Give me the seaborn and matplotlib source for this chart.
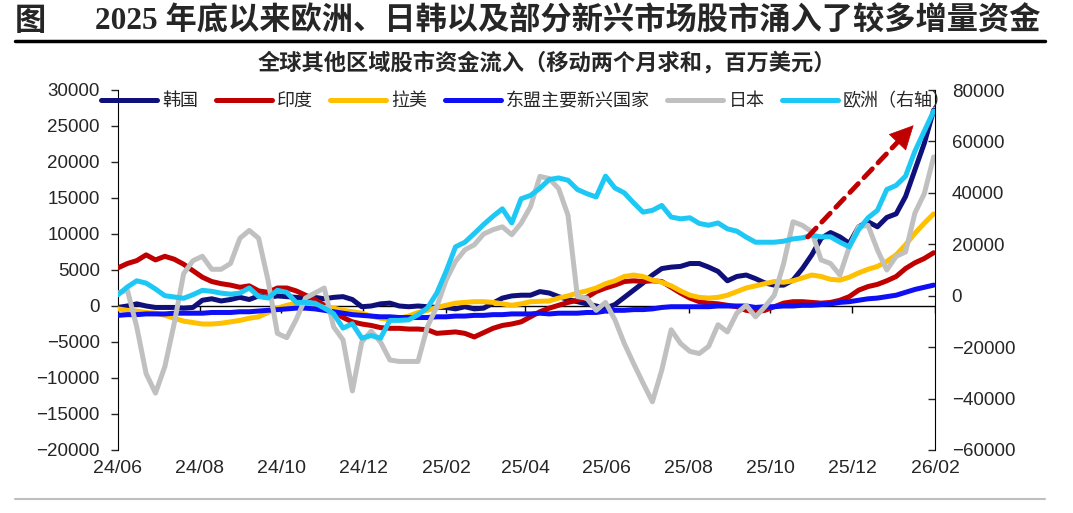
import pandas as pd
import seaborn as sns
import matplotlib.pyplot as plt
import matplotlib.dates as mdates
from matplotlib.lines import Line2D

# 周度数据，移动两个月求和，百万美元
fechas = pd.date_range('2024-06-01', periods=88, freq='7D')

korea = [-200, 0, 300, 0, -200, -200, -200, -300, -200, 800,
         1000, 700, 900, 1200, 900, 1400, 1200, 1400, 1300, 1200,
         1100, 1200, 1000, 1200, 1300, 900, -100, 0, 300, 400,
         0, -100, 0, -100, -200, -200, -400, -100, -400, -300,
         400, 1100, 1400, 1500, 1500, 2000, 1800, 1300, 900, 600,
         300, 0, -300, 200, 1200, 2200, 3200, 4300, 5200, 5400,
         5500, 5900, 5900, 5400, 4800, 3500, 4100, 4300, 3800, 3200,
         2900, 2900, 3600, 5200, 7100, 9400, 10200, 9600, 8700, 11000,
         11700, 11000, 12300, 12800, 15200, 18900, 22600, 27200]

india = [5300, 5900, 6300, 7100, 6400, 6900, 6500, 5800, 4900, 4000,
         3400, 3100, 2900, 2600, 2800, 2100, 1900, 2500, 2500, 2100,
         1500, 900, 100, -800, -1600, -2200, -2500, -2700, -3000, -3100,
         -3100, -3200, -3200, -3300, -3800, -3700, -3600, -3800, -4300, -3700,
         -3100, -2700, -2500, -2200, -1500, -800, -300, 100, 500, 800,
         1200, 2000, 2500, 2900, 3400, 3500, 3400, 3500, 3400, 2600,
         1800, 1100, 600, 400, 300, 100, -100, -600, -800, -600,
         -100, 400, 600, 600, 500, 400, 500, 800, 1300, 2200,
         2700, 3000, 3500, 4100, 5200, 6000, 6600, 7400]

latam = [-400, -600, -700, -900, -1000, -1300, -1700, -2100, -2300, -2500,
         -2500, -2400, -2200, -2000, -1700, -1500, -900, -300, 100, 400,
         300, 0, -200, -300, -600, -800, -1000, -1400, -1700, -1900,
         -1700, -1400, -900, -600, -200, 100, 400, 500, 600, 600,
         500, 300, 100, 300, 600, 650, 700, 1100, 1400, 1800,
         2100, 2500, 3100, 3500, 4100, 4300, 4100, 3600, 3300, 2800,
         2100, 1500, 1200, 1100, 1200, 1500, 2000, 2500, 2800, 3100,
         3400, 3300, 3500, 3900, 4300, 4100, 3700, 3600, 4000, 4600,
         5100, 5500, 6200, 7100, 8500, 10100, 11500, 12800]

asean = [-1300, -1200, -1200, -1100, -1100, -1100, -1000, -1000, -1000, -1000,
         -900, -900, -900, -800, -800, -700, -600, -500, -400, -300,
         -300, -400, -600, -800, -1000, -1200, -1300, -1400, -1500, -1500,
         -1600, -1600, -1600, -1600, -1500, -1500, -1400, -1400, -1300, -1300,
         -1200, -1200, -1100, -1100, -1100, -1000, -1100, -1000, -1000, -1000,
         -900, -900, -700, -600, -600, -500, -500, -400, -200, -100,
         -100, -100, -100, -100, 0, 0, 0, 0, -200, -100,
         -100, 0, 0, 100, 100, 200, 300, 500, 600, 800,
         1000, 1100, 1300, 1500, 1900, 2300, 2600, 2900]

japan = [1800, 2200, -2900, -9400, -12100, -8400, -2400, 4500, 6300, 6900,
         5100, 5100, 5900, 9400, 10500, 9400, 3600, -3800, -4400, -1900,
         1100, 1800, 2500, -2900, -4700, -11800, -5000, -3500, -5000, -7500,
         -7700, -7700, -7700, -2900, -100, 3600, 6200, 7800, 8500, 10000,
         10600, 11000, 9900, 11500, 13800, 18000, 17700, 16300, 12600, 1300,
         1100, -600, 500, -1900, -5200, -8000, -10700, -13300, -8900, -3300,
         -5200, -6300, -6600, -5600, -2600, -3600, -1000, 100, -1500, -100,
         1500, 5900, 11700, 11200, 10300, 6400, 5900, 4300, 8200, 11000,
         11200, 7800, 5000, 6900, 7500, 12900, 15600, 20700]

europe = [400, 3400, 5800, 4900, 2600, 0, -500, -1000, 400, 2100,
          1700, 1000, 600, 1000, 3000, -300, -900, 2100, 1300, -2600,
          -2600, -2900, -4800, -7000, -12600, -10900, -16500, -15500, -16500, -9600,
          -9600, -9400, -7400, -4800, 1000, 9500, 19000, 20800, 24200, 27700,
          30900, 33800, 28300, 37700, 39000, 41800, 45200, 45800, 44900, 41300,
          39700, 38400, 46500, 41900, 40000, 36100, 32500, 33200, 35100, 30600,
          29900, 30300, 28100, 27400, 28300, 26000, 25100, 22800, 20800, 20800,
          20800, 21200, 22100, 22500, 23500, 22900, 22900, 20800, 19000, 25700,
          30300, 33200, 41300, 42900, 46500, 56200, 64000, 71800]

series_izq = [('韩国', korea, '#10107A'),
              ('印度', india, '#C00000'),
              ('拉美', latam, '#FFC000'),
              ('东盟主要新兴国家', asean, '#0F0FF5'),
              ('日本', japan, '#C0C0C0')]
serie_der = ('欧洲（右轴）', europe, '#1EC8F5')

ticks_x = pd.date_range('2024-06-01', '2026-02-01', freq='2MS')
ticks_izq = list(range(-20000, 30001, 5000))
ticks_der = list(range(-60000, 80001, 20000))

# flecha (inicio y fin, eje izquierdo)
flecha_ini = (mdates.date2num(pd.Timestamp('2025-10-29')), 9600)
flecha_fin = (mdates.date2num(pd.Timestamp('2026-01-16')), 25100)

sns.set_style('white')
plt.rcParams['font.family'] = ['Liberation Sans', 'Noto Sans CJK SC']

W, H = 1073, 513
fig = plt.figure(figsize=(W / 100, H / 100), dpi=100)
ax = fig.add_axes([118 / W, 63 / H, 817 / W, 360 / H])

ax.axhline(0, color='black', lw=1, zorder=1)
for nombre, valores, color in series_izq:
    sns.lineplot(x=fechas, y=valores, ax=ax, color=color, lw=3.6,
                 label=nombre, solid_capstyle='round', zorder=3)
ax.plot(ticks_x, [0] * len(ticks_x), ls='none', marker=3, ms=5,
        mew=1, color='black', zorder=2)

ax2 = ax.twinx()
sns.lineplot(x=fechas, y=serie_der[1], ax=ax2, color=serie_der[2], lw=3.6,
             label=serie_der[0], solid_capstyle='round', zorder=3)

for a in (ax, ax2):
    if a.get_legend() is not None:
        a.get_legend().remove()
    a.set_xlabel('')
    a.set_ylabel('')

ax.set_xlim(pd.Timestamp('2024-06-01'), pd.Timestamp('2026-02-01'))
ax.set_ylim(-20000, 30000)
ax2.set_ylim(-60000, 80000)
ax.set_xticks(ticks_x)
ax.set_xticklabels([d.strftime('%y/%m') for d in ticks_x])
ax.set_yticks(ticks_izq)
ax2.set_yticks(ticks_der)

for s in ['top', 'right', 'bottom']:
    ax.spines[s].set_visible(False)
for s in ['top', 'left', 'bottom']:
    ax2.spines[s].set_visible(False)
ax.spines['left'].set_color('black')
ax2.spines['right'].set_color('black')

ax.tick_params(axis='y', direction='out', length=5, width=1, pad=8,
               labelsize=13.5, left=True)
ax.tick_params(axis='x', length=0, pad=7, labelsize=14)
ax2.tick_params(axis='y', direction='in', length=5, width=1, pad=12,
                labelsize=13.5, right=True)

# flecha discontinua: cuerpo punteado + punta solida
ax2.annotate('', xy=flecha_fin, xytext=flecha_ini, xycoords=ax.transData,
             textcoords=ax.transData,
             arrowprops=dict(arrowstyle='-', color='#C00000', lw=3.5,
                             linestyle=(0, (2.5, 1.7)), shrinkA=0, shrinkB=14))
punta_ini = (flecha_ini[0] + 0.85 * (flecha_fin[0] - flecha_ini[0]),
             flecha_ini[1] + 0.85 * (flecha_fin[1] - flecha_ini[1]))
ax2.annotate('', xy=flecha_fin, xytext=punta_ini, xycoords=ax.transData,
             textcoords=ax.transData,
             arrowprops=dict(arrowstyle='-|>,head_length=0.9,head_width=0.45',
                             color='#C00000', lw=0.5, mutation_scale=18,
                             shrinkA=0, shrinkB=0))

# leyenda
handles = [l for l in ax.get_lines() if l.get_label() in [s[0] for s in series_izq]]
handles += [ax2.get_lines()[0]]
labels = [h.get_label() for h in handles]
fig.legend(handles, labels, loc='center left', ncol=6,
           bbox_to_anchor=(101 / W, 1 - 101 / H), frameon=False,
           prop={'family': ['Noto Sans CJK SC'], 'size': 13},
           handlelength=3.1, handletextpad=0.3, columnspacing=0.95,
           borderpad=0, borderaxespad=0)

# titulo
fuente_titulo = ['Liberation Serif', 'Noto Sans CJK SC']
fig.text(15 / W, 1 - 21 / H, '图', fontsize=22.5, weight='bold',
         family=['Noto Sans CJK SC'], va='center', ha='left')
fig.text(95 / W, 1 - 21 / H, '2025 年底以来欧洲、日韩以及部分新兴市场股市涌入了较多增量资金',
         fontsize=22.5, weight='bold', family=fuente_titulo, va='center', ha='left')
fig.add_artist(Line2D([15 / W, 1045 / W], [1 - 41 / H] * 2, lw=2.5, color='black'))
fig.text(547 / W, 1 - 63 / H, '全球其他区域股市资金流入（移动两个月求和，百万美元）',
         fontsize=16, weight='bold', family=['Noto Sans CJK SC'],
         va='center', ha='center')
fig.add_artist(Line2D([15 / W, 1045 / W], [1 - 499 / H] * 2, lw=1.5, color='#BFBFBF'))

fig.savefig('out.png', dpi=100)
